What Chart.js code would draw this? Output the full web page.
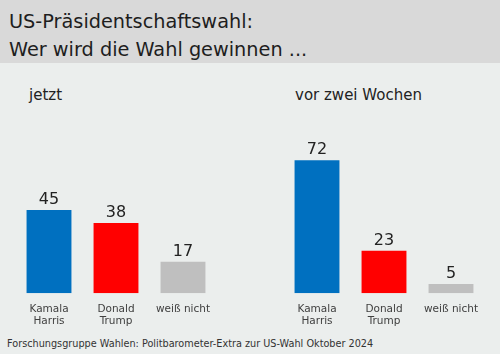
<!DOCTYPE html>
<html>
<head>
<meta charset="utf-8">
<script src="https://cdn.jsdelivr.net/npm/chart.js@4"></script>
<style>
  body { margin: 0; width: 500px; height: 354px; background: #ebeeed; font-family: "DejaVu Sans", sans-serif; position: relative; overflow: hidden; }
  #head { position: absolute; left: 0; top: 0; width: 500px; height: 63px; background: #d9d9d9; }
  #head div { position: absolute; left: 9px; font-size: 19.3px; color: #1e1e1e; white-space: nowrap; }
  .sub { position: absolute; top: 86px; font-size: 15px; color: #222; }
  #foot { position: absolute; left: 7px; top: 338px; font-size: 9.7px; color: #333; white-space: nowrap; }
  canvas { position: absolute; left: 0; top: 0; }
</style>
</head>
<body>
<div id="head">
  <div style="top:10px">US-Präsidentschaftswahl:</div>
  <div style="top:38px">Wer wird die Wahl gewinnen ...</div>
</div>
<div class="sub" style="left:29px">jetzt</div>
<div class="sub" style="left:295px">vor zwei Wochen</div>
<div id="foot">Forschungsgruppe Wahlen: Politbarometer-Extra zur US-Wahl Oktober 2024</div>
<canvas id="chart" width="500" height="354"></canvas>
<script>
// values (percent)
const categories = [['Kamala', 'Harris'], ['Donald', 'Trump'], 'weiß nicht'];
const jetzt = [45, 38, 17];
const vorZweiWochen = [72, 23, 5];
const barColors = ['#0070c0', '#ff0000', '#bfbfbf'];

// both panels share one axis, with an empty slot between them
const labels = [...categories, '', ...categories];
const values = [...jetzt, null, ...vorZweiWochen];
const colors = [...barColors, 'transparent', ...barColors];

// number above each bar
const valueLabels = {
    id: 'valueLabels',
    afterDatasetsDraw(chart) {
        const ctx = chart.ctx;
        const meta = chart.getDatasetMeta(0);
        ctx.save();
        ctx.font = '16px "DejaVu Sans"';
        ctx.fillStyle = '#222';
        ctx.textAlign = 'center';
        ctx.textBaseline = 'alphabetic';
        meta.data.forEach(function(bar, i) {
            const v = values[i];
            if (v == null) return;
            ctx.fillText(v, bar.x, bar.y - 6);
        });
        ctx.restore();
    }
};

new Chart(document.getElementById('chart'), {
    type: 'bar',
    data: {
        labels: labels,
        datasets: [{
            data: values,
            backgroundColor: colors,
            borderWidth: 0,
            barPercentage: 0.67,
            categoryPercentage: 1
        }]
    },
    options: {
        responsive: false,
        animation: false,
        devicePixelRatio: 1,
        layout: { padding: { top: 108.5, left: 15.5, right: 15.5, bottom: 24.6 } },
        plugins: { legend: { display: false }, tooltip: { enabled: false } },
        scales: {
            x: {
                grid: { display: false },
                border: { display: false },
                ticks: {
                    padding: 1.5,
                    maxRotation: 0,
                    autoSkip: false,
                    color: '#404040',
                    font: { family: '"DejaVu Sans"', size: 10.5 }
                }
            },
            y: { display: false, min: 0, max: 100 }
        }
    },
    plugins: [valueLabels]
});
</script>
</body>
</html>
